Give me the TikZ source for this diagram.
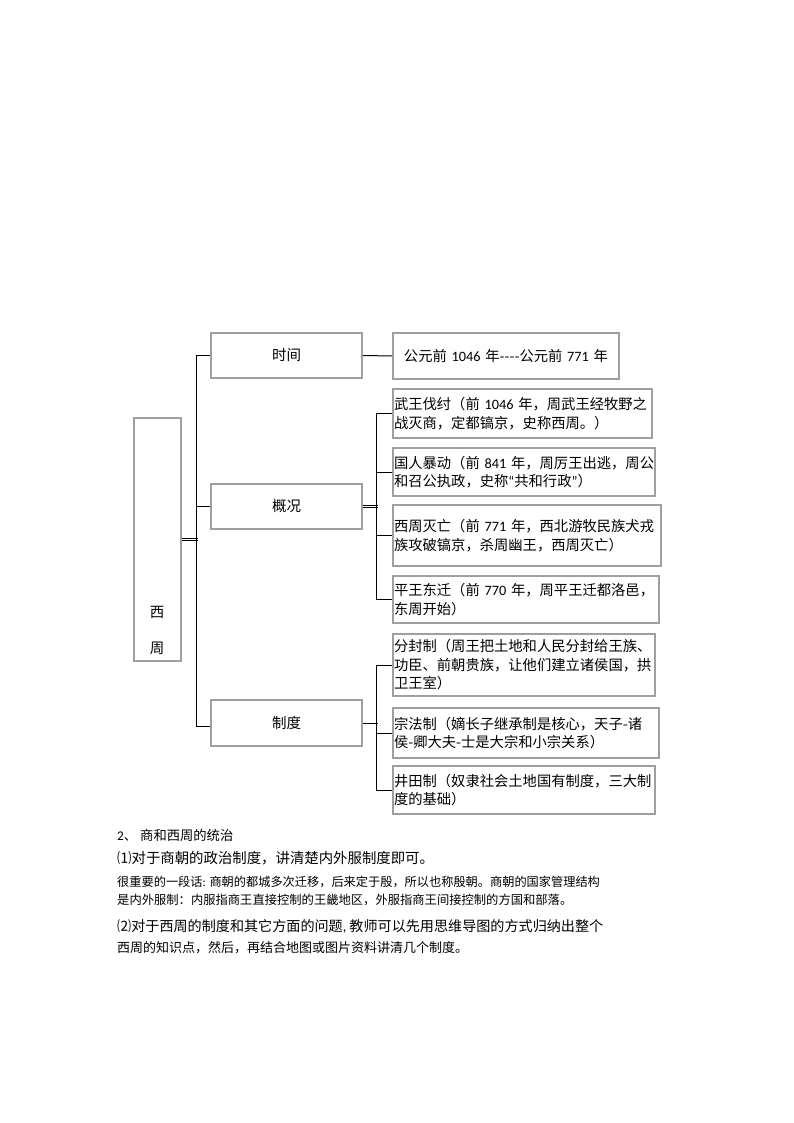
\documentclass[tikz,border=0pt]{standalone}
\usepackage{fontspec}
\newfontfamily\cjk{Noto Sans CJK SC}
\newfontfamily\latin{Carlito}
\usepackage{tikz}
\usetikzlibrary{positioning,calc}

\begin{document}
\begin{tikzpicture}[x=1pt, y=-1pt,
  every node/.style={font=\cjk},
  box/.style={rectangle, draw=gray!75, line width=2pt, fill=white, inner sep=1pt, anchor=north west},
  topic/.style={box, minimum width=151pt, minimum height=45pt, font=\cjk\fontsize{14.5}{18}\selectfont},
  item/.style={box, align=left, font=\cjk\fontsize{14.3}{18.5}\selectfont},
  link/.style={line width=1pt},
  dlink/.style={double, double distance=1.6pt, line width=0.9pt},
  textline/.style={anchor=west, inner sep=0pt}
]
\useasboundingbox (0,0) rectangle (794,1123);

% Root
\node[box, minimum width=47pt, minimum height=243pt] (west) at (133,417) {};
\node[font=\cjk\fontsize{14.5}{36}\selectfont, align=center] (westtext) at (157,630) {西\\周};

% Topics
\node[topic] (time) at (210,332) {时间};
\node[topic] (gaik) at (210,483) {概况};
\node[topic, minimum height=46pt] (zhidu) at (210,699) {制度};

% Details
\node[item, minimum width=226pt, minimum height=46pt, align=center, text width=224pt] (year) at (392,332) {公元前~{\latin 1046}~年----公元前~{\latin 771}~年};
\node[item, text width=257pt, minimum height=49pt] (wuwang) at (392,388) {武王伐纣（前~{\latin 1046}~年，周武王经牧野之\\战灭商，定都镐京，史称西周。）};
\node[item, text width=260pt, minimum height=48pt] (guoren) at (392,447) {国人暴动（前~{\latin 841}~年，周厉王出逃，周公\\和召公执政，史称{\latin “}共和行政{\latin ”}）};
\node[item, text width=266pt, minimum height=61pt] (miewang) at (392,504) {西周灭亡（前~{\latin 771}~年，西北游牧民族犬戎\\族攻破镐京，杀周幽王，西周灭亡）};
\node[item, text width=264pt, minimum height=47pt] (pingwang) at (392,575) {平王东迁（前~{\latin 770}~年，周平王迁都洛邑，\\东周开始）};
\node[item, text width=260pt, minimum height=62pt] (fenfeng) at (392,633) {分封制（周王把土地和人民分封给王族、\\功臣、前朝贵族，让他们建立诸侯国，拱\\卫王室）};
\node[item, text width=264pt, minimum height=50pt] (zongfa) at (392,707) {宗法制（嫡长子继承制是核心，天子-诸\\侯-卿大夫-士是大宗和小宗关系）};
\node[item, text width=260pt, minimum height=48pt] (jingtian) at (392,765) {井田制（奴隶社会土地国有制度，三大制\\度的基础）};

% Connectors
\draw[dlink] (west.east) -- ++(16,0);
\draw[link] (time.west) -- ++(-14,0) |- ($(zhidu.west)+(0,3)$);
\draw[link] (gaik.west) -- ++(-14,0);
\draw[link] (time.east) -- (year.west);

\draw[dlink] (gaik.east) -- ++(15,0);
\draw[link] (wuwang.west) -- ++(-16,0) |- (pingwang.west);
\draw[link] (guoren.west) -- ++(-16,0);
\draw[link] (miewang.west) -- ++(-16,0);

\draw[link] (zhidu.east) -- ++(15,0);
\draw[link] (fenfeng.west) -- ++(-16,0) |- (jingtian.west);
\draw[link] (zongfa.west) -- ++(-16,0);

% Text below
\node[textline, font=\cjk\fontsize{13.3}{16}\selectfont] (l1) at (117,835) {{\latin 2}、 商和西周的统治};
\node[textline, font=\cjk\fontsize{14.4}{16}\selectfont] (l2) at (117,858) {⑴对于商朝的政治制度，讲清楚内外服制度即可。};
\node[textline, font=\cjk\fontsize{12.2}{14}\selectfont] (l3) at (117,882) {很重要的一段话{\latin :} 商朝的都城多次迁移，后来定于殷，所以也称殷朝。商朝的国家管理结构};
\node[textline, font=\cjk\fontsize{12.3}{14}\selectfont] (l4) at (117,900) {是内外服制：内服指商王直接控制的王畿地区，外服指商王间接控制的方国和部落。};
\node[textline, font=\cjk\fontsize{14.1}{16}\selectfont] (l5) at (117,926) {⑵对于西周的制度和其它方面的问题{\latin ,} 教师可以先用思维导图的方式归纳出整个};
\node[textline, font=\cjk\fontsize{13}{16}\selectfont] (l6) at (117,948) {西周的知识点，然后，再结合地图或图片资料讲清几个制度。};

\end{tikzpicture}
\end{document}
